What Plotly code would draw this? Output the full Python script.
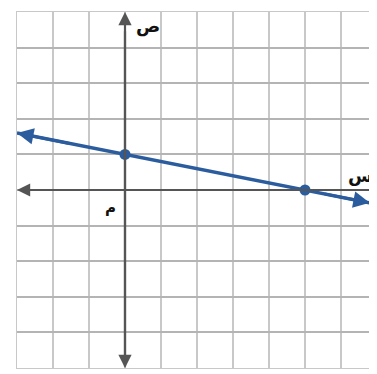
import plotly.graph_objects as go

# data
points_x = [0, 5]
points_y = [1, 0]
line_ends_x = [-3, 6.8]
line_ends_y = [1.6, -0.36]
x_label = "س"
y_label = "ص"
origin_label = "م"

BLUE = "#2b5c9e"
AXIS = "#555555"
GRID = "#c8c8c8"

fig = go.Figure()

fig.add_trace(go.Scatter(x=line_ends_x, y=line_ends_y, mode="lines",
                         line=dict(color=BLUE, width=3.5), hoverinfo="skip"))
fig.add_trace(go.Scatter(x=points_x, y=points_y, mode="markers",
                         marker=dict(color=BLUE, size=11), hoverinfo="skip"))

ann = []
ann.append(dict(x=0, y=5.0, ax=0, ay=-5.0, xref="x", yref="y", axref="x", ayref="y",
                showarrow=True, arrowhead=2, arrowsize=1.2, arrowwidth=2.2, arrowcolor=AXIS, text=""))
ann.append(dict(x=0, y=-5.0, ax=0, ay=4.5, xref="x", yref="y", axref="x", ayref="y",
                showarrow=True, arrowhead=2, arrowsize=1.2, arrowwidth=2.2, arrowcolor=AXIS, text=""))
ann.append(dict(x=-3.0, y=0, ax=7.0, ay=0, xref="x", yref="y", axref="x", ayref="y",
                showarrow=True, arrowhead=2, arrowsize=1.2, arrowwidth=2.2, arrowcolor=AXIS, text=""))
ann.append(dict(x=line_ends_x[0], y=line_ends_y[0], ax=-1.5, ay=1.3, xref="x", yref="y",
                axref="x", ayref="y", showarrow=True, arrowhead=2, arrowsize=1.1,
                arrowwidth=3, arrowcolor=BLUE, text=""))
ann.append(dict(x=line_ends_x[1], y=line_ends_y[1], ax=5.5, ay=-0.1, xref="x", yref="y",
                axref="x", ayref="y", showarrow=True, arrowhead=2, arrowsize=1.1,
                arrowwidth=3, arrowcolor=BLUE, text=""))
ann.append(dict(x=0.25, y=4.6, text="<b>" + y_label + "</b>", showarrow=False, xanchor="left",
                font=dict(family="DejaVu Sans", size=18, color="#111")))
ann.append(dict(x=6.55, y=0.42, text="<b>" + x_label + "</b>", showarrow=False,
                font=dict(family="DejaVu Sans", size=18, color="#111")))
ann.append(dict(x=-0.4, y=-0.5, text="<b>" + origin_label + "</b>", showarrow=False,
                font=dict(family="DejaVu Sans", size=15, color="#111")))

fig.update_layout(
    width=369, height=366,
    margin=dict(l=9, r=0, t=4, b=6),
    paper_bgcolor="white", plot_bgcolor="white",
    showlegend=False,
    annotations=ann,
    xaxis=dict(range=[-3, 7.0], dtick=1, tick0=0, showgrid=True, gridcolor=GRID,
               gridwidth=1.5, zeroline=False, showticklabels=False, ticks="",
               showline=True, linecolor=GRID, mirror=True, fixedrange=True),
    yaxis=dict(range=[-5, 5], dtick=1, tick0=0, showgrid=True, gridcolor="#b4b4b4",
               gridwidth=1.5, zeroline=False, showticklabels=False, ticks="",
               showline=True, linecolor=GRID, mirror=True, fixedrange=True),
)

fig.write_html("out.html", config={"displayModeBar": False})
